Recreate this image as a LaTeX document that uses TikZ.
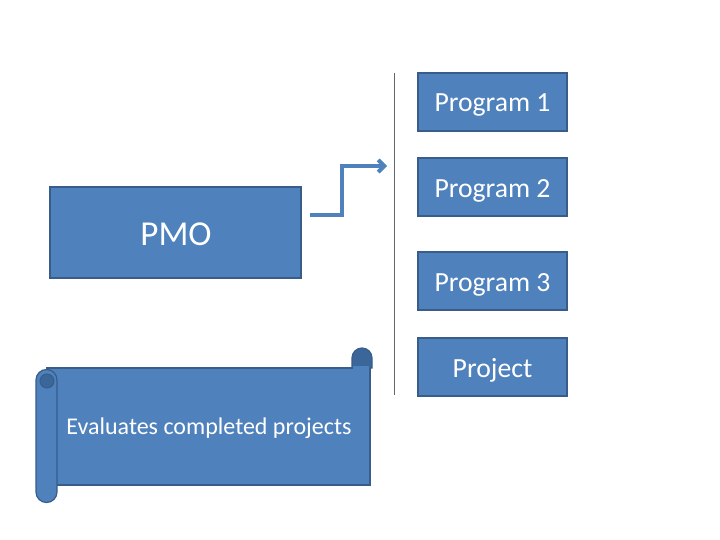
\documentclass[tikz,border=0pt]{standalone}
\usepackage{fontspec}
\usetikzlibrary{arrows.meta}
\setmainfont{Carlito}
\definecolor{boxfill}{HTML}{4F81BD}
\definecolor{boxline}{HTML}{385D8A}
\definecolor{rolldark}{HTML}{3A6699}
\begin{document}
\begin{tikzpicture}[x=1pt,y=-1pt,
  prog/.style={draw=boxline,line width=1.2pt,fill=boxfill,minimum width=149pt,minimum height=58pt,text=white,font=\fontsize{27.7}{30}\selectfont,inner sep=0pt,text height=26pt,text depth=6pt},
  pmo/.style={draw=boxline,line width=1.2pt,fill=boxfill,minimum width=251pt,minimum height=91pt,inner sep=0pt},
  conn/.style={draw=boxfill,line width=4pt,-{Straight Barb[length=6pt,width=12pt]}}]
\useasboundingbox (0,0) rectangle (720,540);
\fill[white] (0,0) rectangle (720,540);
% divider
\draw[gray!80!black,line width=0.8pt] (394,73) -- (394,395);
% program boxes
\node[prog] (p1) at (492.5,102) {Program 1};
\node[prog] (p2) at (492.5,187) {Program 2};
\node[prog] (p3) at (492.5,281) {Program 3};
\node[prog] (pj) at (492.5,367) {Project};
% PMO
\node[pmo] (pmo) at (175.5,232.5) {};
\node[text=white,font=\fontsize{35}{38}\selectfont] (pmot) at (176,234) {PMO};
% connector
\coordinate (cs) at (310,215);
\coordinate (ce) at (387,166);
\draw[conn] (cs) -- (342,215) -- (342,166) -- (ce);
% scroll body
\draw[draw=boxline,line width=1.4pt,fill=boxfill] (47,368) rectangle (370,485);
% top-right roll
\draw[draw=boxline,line width=1.2pt,fill=rolldark] (352,368) -- (352,358) arc[start angle=180,end angle=360,radius=10] -- (372,368) -- cycle;
\fill[boxfill] (353,366) rectangle (369.3,370);
% left roll
\draw[draw=boxline,line width=1.2pt,fill=boxfill] (36,380) arc[start angle=180,end angle=360,radius=10.5] -- (57,492) arc[start angle=0,end angle=180,radius=10.5] -- cycle;
\draw[draw=boxline,line width=1pt,fill=rolldark] (47,381) circle[radius=7];
\node[text=white,font=\fontsize{24}{27}\selectfont] (scr) at (209,428) {Evaluates completed projects};
\end{tikzpicture}
\end{document}
